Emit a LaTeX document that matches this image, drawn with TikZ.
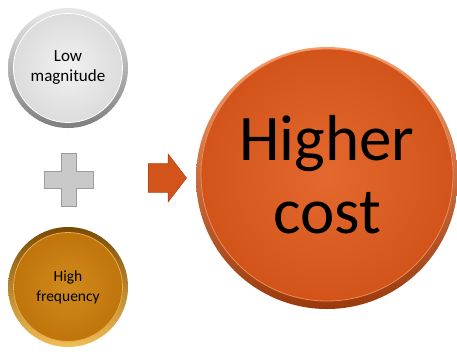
\documentclass[tikz,border=0pt]{standalone}
\usepackage{fontspec}
\setmainfont{Carlito}
\usetikzlibrary{shapes.arrows}
\definecolor{greyin}{HTML}{F1F1F1}
\definecolor{greyout}{HTML}{DCDCDC}
\definecolor{greyrimlight}{HTML}{E8E8E8}
\definecolor{greyrimdark}{HTML}{7E7E7E}
\definecolor{goldin}{HTML}{D08A1C}
\definecolor{goldout}{HTML}{C0740C}
\definecolor{goldrimlight}{HTML}{F2BE58}
\definecolor{goldrimdark}{HTML}{7A4A05}
\definecolor{costin}{HTML}{E4692E}
\definecolor{costout}{HTML}{D2541B}
\definecolor{costrimlight}{HTML}{F6A070}
\definecolor{costrimdark}{HTML}{9A3A0C}
\definecolor{plusfill}{HTML}{C9C9C9}
\definecolor{plusline}{HTML}{9C9C9C}
\begin{document}
\begin{tikzpicture}[x=1pt,y=-1pt]
    \useasboundingbox (0,0) rectangle (457,357);

    % rims
    \begin{scope}[every node/.style={circle, inner sep=0pt, shading angle=135}]
        \node[minimum size=120pt, top color=greyrimlight, bottom color=greyrimdark] (lowrim) at (68,68) {};
        \node[minimum size=120pt, top color=goldrimdark, bottom color=goldrimlight] (highrim) at (68,287) {};
        \node[minimum size=262pt, top color=costrimlight, bottom color=costrimdark] (costrim) at (327,178) {};
    \end{scope}

    % faces
    \begin{scope}[every node/.style={circle, inner sep=0pt, align=center, text=black}]
        \node[minimum size=109pt, inner color=greyin, outer color=greyout, draw=white, line width=0.8pt,
              font=\fontsize{17}{20}\selectfont] (low) at (68,68) {Low\\magnitude};
        \node[minimum size=109pt, inner color=goldin, outer color=goldout, draw=goldrimlight!70!goldin, line width=0.8pt,
              font=\fontsize{15.5}{20}\selectfont] (high) at (68,287) {High\\frequency};
        \node[minimum size=252pt, inner color=costin, outer color=costout, draw=costrimlight!60!costin, line width=0.8pt,
              font=\fontsize{65}{73}\selectfont] (cost) at (327,175) {Higher\\cost};
    \end{scope}

    % plus
    \draw[fill=plusfill, draw=plusline, line width=1pt]
        (61,153) -- (76,153) -- (76,171) -- (93,171) -- (93,188) -- (76,188)
        -- (76,206) -- (61,206) -- (61,188) -- (44,188) -- (44,171) -- (61,171) -- cycle;

    % arrow
    \node[single arrow, fill=costout, draw=costrimdark!60!costout, line width=0.6pt,
          minimum height=38pt, inner xsep=0pt, inner ysep=14pt,
          single arrow head extend=9.5pt, single arrow tip angle=105] (arrow) at (162,178) {};
\end{tikzpicture}
\end{document}
